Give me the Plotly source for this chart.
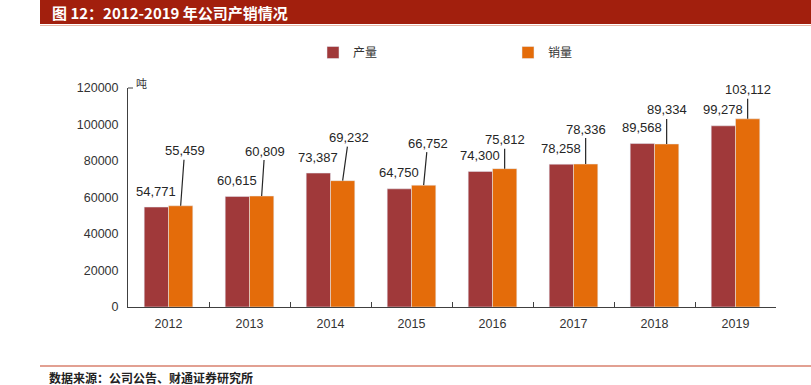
import plotly.graph_objects as go

years = ["2012", "2013", "2014", "2015", "2016", "2017", "2018", "2019"]
production = [54771, 60615, 73387, 64750, 74300, 78258, 89568, 99278]
sales = [55459, 60809, 69232, 66752, 75812, 78336, 89334, 103112]
y_ticks = [0, 20000, 40000, 60000, 80000, 100000, 120000]

# label offsets (pixels) for the sales labels with leader lines
sales_label_dx = [4, 3, 6, 4, 0, 0, 0, 0]
sales_label_dy = [-55, -45, -43, -42, -29, -35, -34, -29]

RED = "#A0393A"
ORANGE = "#E46C0A"
W, H = 811, 385
ML, MR, MT, MB = 128, 35, 88, 78
PW, PH = W - ML - MR, H - MT - MB


def px_x(px):
    return (px - ML) / PW


def px_y(py):
    return (H - MB - py) / PH


fig = go.Figure()
fig.add_trace(go.Bar(name="产量", x=years, y=production, marker_color=RED))
fig.add_trace(go.Bar(name="销量", x=years, y=sales, marker_color=ORANGE))

label_font = dict(family="Liberation Sans, Arial", size=13, color="#262626")
annotations = []
for i, (p, s) in enumerate(zip(production, sales)):
    annotations.append(dict(x=i - 0.15, y=p, xref="x", yref="y", text=f"{p:,}",
                            showarrow=False, yshift=16, font=label_font))
    annotations.append(dict(x=i + 0.15, y=s, xref="x", yref="y", text=f"{s:,}",
                            showarrow=True, arrowhead=0, arrowwidth=1.2,
                            arrowcolor="#262626", standoff=0,
                            ax=sales_label_dx[i], ay=sales_label_dy[i],
                            axref="pixel", ayref="pixel", font=label_font))

# unit label
annotations.append(dict(x=px_x(141), y=px_y(83), xref="paper", yref="paper",
                        xanchor="center", yanchor="middle",
                        text="吨", showarrow=False,
                        font=dict(family="Noto Sans CJK SC", size=11, color="#333")))
# title
annotations.append(dict(x=px_x(50), y=px_y(12), xref="paper", yref="paper",
                        xanchor="left", yanchor="middle",
                        text="<b>图 12：2012-2019 年公司产销情况</b>", showarrow=False,
                        font=dict(family="Noto Sans CJK SC", size=15, color="white")))
# footer
annotations.append(dict(x=px_x(47), y=px_y(377), xref="paper", yref="paper",
                        xanchor="left", yanchor="middle",
                        text="<b>数据来源：公司公告、财通证券研究所</b>", showarrow=False,
                        font=dict(family="Noto Sans CJK SC", size=12, color="#222")))

shapes = [
    dict(type="rect", xref="paper", yref="paper", x0=px_x(40), x1=px_x(811),
         y0=px_y(24), y1=px_y(0), fillcolor="#A21F0D", line=dict(width=0), layer="below"),
    dict(type="line", xref="paper", yref="paper", x0=px_x(40), x1=px_x(811),
         y0=px_y(25.5), y1=px_y(25.5), line=dict(color="#E8B8A8", width=1)),
    dict(type="line", xref="paper", yref="paper", x0=px_x(40), x1=px_x(811),
         y0=px_y(366), y1=px_y(366), line=dict(color="#D9806E", width=1.5)),
    dict(type="line", xref="paper", yref="paper", x0=0, x1=px_x(133),
         y0=1, y1=1, line=dict(color="#404040", width=1)),
]

fig.update_layout(
    width=W, height=H,
    margin=dict(l=ML, r=MR, t=MT, b=MB),
    paper_bgcolor="white", plot_bgcolor="white",
    barmode="group", bargap=0.4, bargroupgap=0,
    showlegend=True,
    legend=dict(orientation="h", x=px_x(313), y=px_y(38), xanchor="left", yanchor="top",
                entrywidth=150, entrywidthmode="pixels", itemwidth=30,
                font=dict(family="Noto Sans CJK SC", size=12, color="#333"),
                bgcolor="rgba(0,0,0,0)"),
    annotations=annotations,
    shapes=shapes,
    font=dict(family="Liberation Sans, Arial", size=13, color="#333"),
)
fig.update_xaxes(type="category", showline=True, linecolor="#404040", linewidth=1,
                 ticks="inside", tickson="boundaries", ticklen=5, tickcolor="#404040",
                 ticklabelstandoff=5,
                 tickfont=dict(family="Liberation Sans, Arial", size=12.5, color="#333"),
                 showgrid=False, zeroline=False)
fig.update_yaxes(range=[0, 120000], tickvals=y_ticks, tickformat="d",
                 showline=True, linecolor="#404040", linewidth=1, ticks="",
                 ticklabelstandoff=6,
                 showgrid=False, zeroline=False,
                 tickfont=dict(family="Liberation Sans, Arial", size=12.5, color="#333"))

fig.write_html("out.html", config={"displayModeBar": False},
               post_script="document.body.style.margin='0';")
